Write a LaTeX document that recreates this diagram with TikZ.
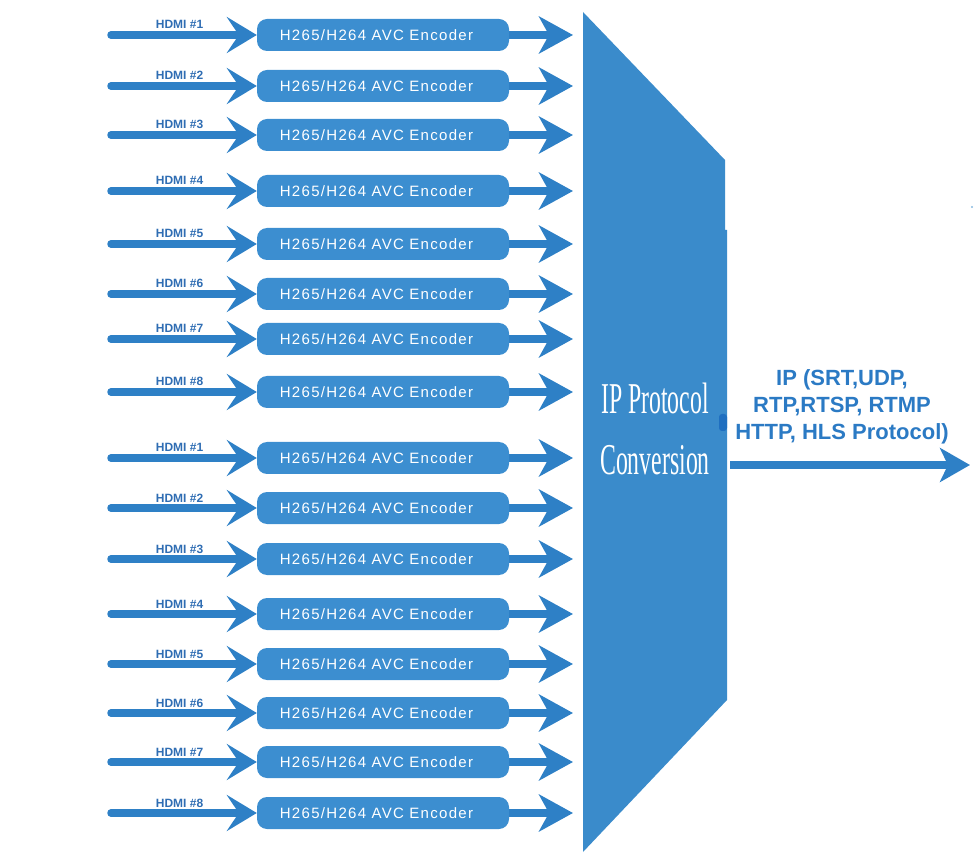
\documentclass[tikz,border=0pt]{standalone}
\usepackage{fontspec}
\setmainfont{Liberation Sans}
\newfontfamily\encfont[LetterSpace=8.7]{Liberation Sans}
\newfontfamily\ipfont{Liberation Serif}
\usetikzlibrary{arrows.meta}
\definecolor{shapec}{HTML}{3A8BCB}
\definecolor{boxc}{HTML}{3C8ED0}
\definecolor{arrc}{HTML}{2E80C6}
\definecolor{lblc}{HTML}{2F6DB3}
\definecolor{outc}{HTML}{2B7AC4}
\definecolor{blobc}{HTML}{1F6FC0}
\tikzset{
  enc/.style={fill=boxc, rounded corners=10pt, minimum width=252pt, minimum height=32pt,
    inner sep=0pt, text=white, font=\encfont\fontsize{15}{18}\selectfont},
  inarr/.style={draw=arrc, line width=7.5pt, line cap=round,
    -{Stealth[length=30pt,width=36pt,inset=12pt]}},
  outarr/.style={draw=arrc, line width=7.5pt,
    -{Stealth[length=34pt,width=37pt,inset=10pt]}},
  hlabel/.style={text=lblc, font=\bfseries\fontsize{12}{14}\selectfont, anchor=base,
    inner sep=0pt, yshift=6pt},
  iptext/.style={text=white, font=\ipfont\fontsize{44}{61}\selectfont, align=center, inner sep=0pt},
  proto/.style={text=outc, font=\bfseries\fontsize{22}{27}\selectfont, align=center, inner sep=0pt},
  bigarr/.style={draw=arrc, line width=8pt, -{Stealth[length=30pt,width=34pt,inset=8pt]}}
}
\begin{document}
\begin{tikzpicture}[x=1pt,y=-1pt]
\useasboundingbox (0,0) rectangle (975,858);
% big conversion shape
\fill[shapec] (583,12) -- (725,160) -- (725,230) -- (727,230) -- (727,700) -- (583,852) -- cycle;
\node[iptext] (ipc) at (655,429) {\scalebox{0.54}[1]{IP Protocol}\\\scalebox{0.54}[1]{Conversion}};
\fill[blobc, rounded corners=3pt] (719,414) rectangle (727,431);
\fill[shapec!60] (972,207) circle (1.2);
% rows
\foreach \i/\y/\n in {1/35/1,2/86/2,3/135/3,4/191/4,5/244/5,6/294/6,7/339/7,8/392/8,
                      9/458/1,10/508/2,11/559/3,12/614/4,13/664/5,14/713/6,15/762/7,16/813/8}{
  \node[enc] (enc\i) at (383,\y) {\hspace*{-13pt}H265/H264 AVC Encoder};
  \coordinate (in\i) at (111,\y);
  \coordinate (out\i) at (573,\y);
  \draw[inarr] (in\i) -- node[hlabel, pos=0.47] {HDMI \#\n} (enc\i.west);
  \draw[outarr] (enc\i.east) -- (out\i);
}
% output
\coordinate (ipout) at (730,465);
\coordinate (ipend) at (970,465);
\draw[bigarr] (ipout) -- (ipend);
\node[proto] (plabel) at (842,407) {IP (SRT,UDP,\\RTP,RTSP, RTMP\\HTTP, HLS Protocol)};
\end{tikzpicture}
\end{document}
